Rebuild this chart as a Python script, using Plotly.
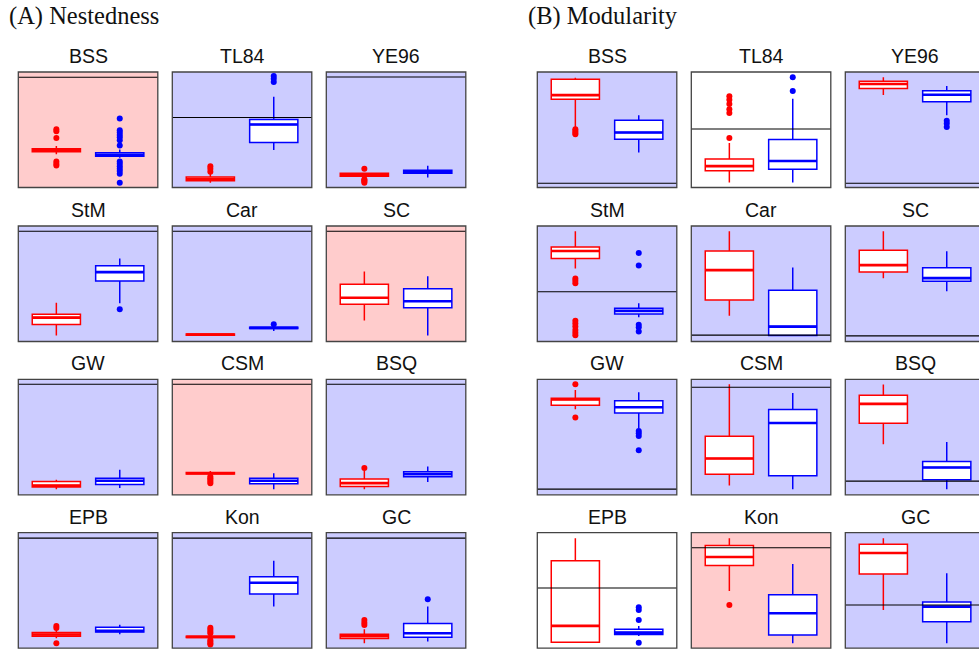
import plotly.graph_objects as go

# ---------------------------------------------------------------------------
# Data: 12 food webs, two null-model distributions (red / blue) per web,
# observed value (black line) and shading of each panel.
# Box stats are (lower whisker, q1, median, q3, upper whisker).
# ---------------------------------------------------------------------------
networks = ["BSS", "TL84", "YE96", "StM", "Car", "SC",
            "GW", "CSM", "BSQ", "EPB", "Kon", "GC"]

# (A) Nestedness
nest_observed = [0.954, 0.606, 0.957, 0.954, 0.954, 0.954,
                 0.957, 0.957, 0.957, 0.953, 0.953, 0.953]
nest_shade = ["red", "blue", "blue", "blue", "blue", "red",
              "blue", "red", "blue", "blue", "blue", "blue"]
nest_red_stats = [
    (0.287, 0.309, 0.322, 0.335, 0.359),
    (0.041, 0.058, 0.074, 0.090, 0.117),
    (0.090, 0.097, 0.110, 0.124, 0.130),
    (0.052, 0.147, 0.207, 0.236, 0.336),
    (0.050, 0.055, 0.060, 0.066, 0.070),
    (0.181, 0.322, 0.379, 0.495, 0.607),
    (0.049, 0.067, 0.080, 0.115, 0.130),
    (0.175, 0.180, 0.187, 0.192, 0.205),
    (0.049, 0.072, 0.101, 0.136, 0.210),
    (0.086, 0.104, 0.118, 0.135, 0.158),
    (0.080, 0.092, 0.098, 0.104, 0.115),
    (0.043, 0.083, 0.104, 0.121, 0.164),
]
nest_red_outliers = [
    [0.504, 0.487, 0.429, 0.226, 0.206, 0.191],
    [0.185, 0.163, 0.137],
    [0.163, 0.072, 0.062, 0.052, 0.042],
    [],
    [],
    [],
    [],
    [0.158, 0.144, 0.130, 0.115, 0.101],
    [0.233],
    [0.193, 0.175, 0.043],
    [0.178, 0.161, 0.144, 0.130, 0.072, 0.058, 0.043, 0.032],
    [0.245, 0.221, 0.201],
]
nest_blue_stats = [
    (0.257, 0.270, 0.284, 0.300, 0.328),
    (0.324, 0.389, 0.545, 0.589, 0.785),
    (0.087, 0.123, 0.137, 0.150, 0.189),
    (0.331, 0.523, 0.601, 0.655, 0.719),
    (0.090, 0.112, 0.118, 0.124, 0.130),
    (0.052, 0.293, 0.348, 0.457, 0.564),
    (0.058, 0.089, 0.121, 0.144, 0.216),
    (0.049, 0.095, 0.121, 0.144, 0.187),
    (0.110, 0.156, 0.179, 0.199, 0.245),
    (0.121, 0.141, 0.150, 0.181, 0.204),
    (0.360, 0.469, 0.567, 0.619, 0.757),
    (0.057, 0.095, 0.130, 0.213, 0.360),
]
nest_blue_outliers = [
    [0.597, 0.496, 0.476, 0.455, 0.435, 0.409, 0.363,
     0.226, 0.206, 0.185, 0.163, 0.142, 0.119, 0.041],
    [0.965, 0.942, 0.913],
    [],
    [0.279],
    [0.150],
    [],
    [],
    [],
    [],
    [],
    [],
    [0.424],
]

# (B) Modularity
mod_observed = [0.037, 0.507, 0.037, 0.431, 0.055, 0.049,
                0.049, 0.931, 0.118, 0.521, 0.870, 0.374]
mod_shade = ["blue", "white", "blue", "blue", "blue", "blue",
             "blue", "blue", "blue", "white", "red", "blue"]
mod_red_stats = [
    (0.520, 0.763, 0.800, 0.937, 0.951),
    (0.043, 0.145, 0.185, 0.246, 0.385),
    (0.800, 0.858, 0.896, 0.919, 0.954),
    (0.633, 0.719, 0.784, 0.819, 0.954),
    (0.224, 0.359, 0.618, 0.784, 0.954),
    (0.547, 0.601, 0.661, 0.791, 0.954),
    (0.741, 0.775, 0.826, 0.836, 0.907),
    (0.081, 0.179, 0.314, 0.507, 0.957),
    (0.438, 0.620, 0.787, 0.862, 0.954),
    (0.045, 0.052, 0.193, 0.757, 0.951),
    (0.495, 0.717, 0.789, 0.890, 0.951),
    (0.331, 0.642, 0.824, 0.899, 0.951),
]
mod_red_outliers = [
    [0.505, 0.490, 0.475, 0.460],
    [0.791, 0.759, 0.722, 0.678, 0.646, 0.429],
    [],
    [0.545, 0.525, 0.505, 0.180, 0.155, 0.130, 0.100, 0.075, 0.055],
    [],
    [],
    [0.957, 0.669],
    [],
    [],
    [],
    [0.374],
    [],
]
mod_blue_stats = [
    (0.302, 0.417, 0.476, 0.583, 0.626),
    (0.043, 0.159, 0.229, 0.415, 0.768),
    (0.626, 0.742, 0.803, 0.837, 0.878),
    (0.210, 0.239, 0.265, 0.288, 0.331),
    (0.052, 0.052, 0.129, 0.443, 0.641),
    (0.434, 0.521, 0.549, 0.638, 0.782),
    (0.576, 0.709, 0.758, 0.815, 0.888),
    (0.049, 0.164, 0.622, 0.738, 0.882),
    (0.049, 0.130, 0.236, 0.288, 0.458),
    (0.106, 0.118, 0.135, 0.164, 0.193),
    (0.043, 0.115, 0.302, 0.463, 0.729),
    (0.043, 0.230, 0.360, 0.400, 0.648),
]
mod_blue_outliers = [
    [],
    [0.954, 0.835],
    [0.577, 0.554, 0.524],
    [0.767, 0.659, 0.144, 0.124, 0.086],
    [],
    [],
    [0.553, 0.533, 0.510, 0.386],
    [],
    [],
    [0.354, 0.331, 0.245, 0.048],
    [],
    [],
]

sections = [
    ("(A) Nestedness", nest_observed, nest_shade,
     nest_red_stats, nest_red_outliers, nest_blue_stats, nest_blue_outliers),
    ("(B) Modularity", mod_observed, mod_shade,
     mod_red_stats, mod_red_outliers, mod_blue_stats, mod_blue_outliers),
]

# ---------------------------------------------------------------------------
# Styling / geometry
# ---------------------------------------------------------------------------
W, H = 979, 653
shade_colors = {"red": "#FFCCCC", "blue": "#CCCCFF", "white": "#FFFFFF"}
series_colors = {"red": "#FF0000", "blue": "#0000FF"}
section_left = [18.3, 537.3]
col_pitch = 154.0
panel_w = 139.5
row_tops = [72.0, 226.0, 379.3, 532.7]
panel_h = 115.5
x_lo, x_hi = 0.4, 2.6          # x extent of each panel (box positions 1 and 2)
box_w = 0.76

fig = go.Figure()
layout = {}
shapes = []
annotations = []


def draw_box(ax_x, ax_y, pos, stats, outliers, color):
    lo, q1, med, q3, hi = stats
    fig.add_trace(go.Box(
        x=[pos], q1=[q1], median=[med], q3=[q3],
        lowerfence=[lo], upperfence=[hi],
        width=box_w, whiskerwidth=0, boxpoints=False,
        fillcolor="white", line=dict(color=color, width=1.5),
        xaxis=ax_x, yaxis=ax_y, showlegend=False, hoverinfo="skip"))
    # heavier median bar
    fig.add_trace(go.Scatter(
        x=[pos - box_w / 2, pos + box_w / 2], y=[med, med], mode="lines",
        line=dict(color=color, width=2.6), xaxis=ax_x, yaxis=ax_y,
        showlegend=False, hoverinfo="skip"))
    if outliers:
        fig.add_trace(go.Scatter(
            x=[pos] * len(outliers), y=outliers, mode="markers",
            marker=dict(color=color, size=6), xaxis=ax_x, yaxis=ax_y,
            showlegend=False, hoverinfo="skip"))


for s, (heading, observed, shade, rs, ro, bs, bo) in enumerate(sections):
    annotations.append(dict(
        text=heading, x=(section_left[s] - 11) / W, y=(H - 16) / H,
        xref="paper", yref="paper", xanchor="left", yanchor="middle",
        showarrow=False,
        font=dict(family="Liberation Serif", size=24.5, color="#111111")))
    for i, name in enumerate(networks):
        r, c = divmod(i, 3)
        n = s * 12 + i + 1
        ax_x = "x" if n == 1 else f"x{n}"
        ax_y = "y" if n == 1 else f"y{n}"
        key_x = "xaxis" if n == 1 else f"xaxis{n}"
        key_y = "yaxis" if n == 1 else f"yaxis{n}"

        left = section_left[s] + c * col_pitch
        right = left + panel_w
        top = row_tops[r]
        vis_right = min(right, W)
        frac = (vis_right - left) / panel_w
        layout[key_x] = dict(
            domain=[left / W, vis_right / W],
            range=[x_lo, x_lo + (x_hi - x_lo) * frac],
            showticklabels=False, ticks="", showgrid=False, zeroline=False,
            showline=False, fixedrange=True, anchor=ax_y)
        layout[key_y] = dict(
            domain=[(H - top - panel_h) / H, (H - top) / H],
            range=[0, 1], showticklabels=False, ticks="", showgrid=False,
            zeroline=False, showline=False, fixedrange=True, anchor=ax_x)

        xd, yd = f"{ax_x} domain", f"{ax_y} domain"
        shapes.append(dict(type="rect", xref=xd, yref=yd, x0=0, x1=1 / frac,
                           y0=0, y1=1, fillcolor=shade_colors[shade[i]],
                           line=dict(width=0), layer="below"))
        shapes.append(dict(type="line", xref=xd, yref=ax_y, x0=0, x1=1 / frac,
                           y0=observed[i], y1=observed[i],
                           line=dict(color="black", width=1.1), layer="above"))
        shapes.append(dict(type="rect", xref=xd, yref=yd, x0=0, x1=1 / frac,
                           y0=0, y1=1, fillcolor="rgba(0,0,0,0)",
                           line=dict(color="#444444", width=1.3), layer="above"))

        draw_box(ax_x, ax_y, 1, rs[i], ro[i], series_colors["red"])
        draw_box(ax_x, ax_y, 2, bs[i], bo[i], series_colors["blue"])

        annotations.append(dict(
            text=name, x=(left + panel_w / 2) / W, y=(H - (top - 16)) / H,
            xref="paper", yref="paper", xanchor="center", yanchor="middle",
            showarrow=False,
            font=dict(family="Liberation Sans, Arial", size=19.5,
                      color="#111111")))

fig.update_layout(
    width=W, height=H, margin=dict(l=0, r=0, t=0, b=0),
    paper_bgcolor="white", plot_bgcolor="rgba(0,0,0,0)",
    shapes=shapes, annotations=annotations, showlegend=False,
    **layout)

fig.write_html("out.html")
